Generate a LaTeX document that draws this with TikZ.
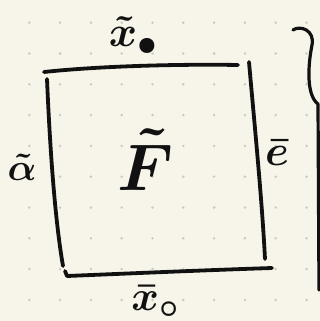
\documentclass[tikz,border=0pt]{standalone}
\definecolor{paper}{HTML}{F7F5EA}
\definecolor{dotc}{HTML}{CACAC4}
\definecolor{ink}{HTML}{111111}
\tikzset{
  pen/.style={draw=ink, line width=3.8pt, line cap=round, line join=round},
  lbl/.style={text=ink, inner sep=0pt}
}
\begin{document}
\begin{tikzpicture}[x=1pt,y=-1pt]
\fill[paper] (0,0) rectangle (320,321);
\useasboundingbox (0,0) rectangle (320,321);
\foreach \i in {0,...,9} \foreach \j in {0,...,9}
  \fill[dotc] ({29.3+30.8*\i},{22.7+30.8*\j}) circle (1.4);
% box sides
\draw[pen] (44,72) .. controls (100,66) and (180,64) .. (238,65);
\draw[pen] (47,79) .. controls (50,150) and (55,220) .. (63,266);
\draw[pen] (249,62) .. controls (255,130) and (262,200) .. (265,259);
\draw[pen] (65,271) -- (67,276) .. controls (140,273) and (210,270) .. (272,268);
% brace
\draw[pen, line width=3.2pt] (293,30) .. controls (300,25) and (315,30) .. (312,45)
  .. controls (308,65) and (306,95) .. (318,104) -- (319,290);
% labels
\node[lbl] (xt) at (134,35) {\scalebox{4.3}{\boldmath$\tilde{x}_{\bullet}$}};
\node[lbl] (al) at (22,167) {\scalebox{3.8}{\boldmath$\tilde{\alpha}$}};
\node[lbl] (F) at (146,160) {\scalebox{6.6}{\boldmath$\tilde{F}$}};
\node[lbl] (eb) at (277,153) {\scalebox{4.3}{\boldmath$\bar{e}$}};
\node[lbl] (xb) at (156,301) {\scalebox{4.2}{\boldmath$\bar{x}_{\circ}$}};
\end{tikzpicture}
\end{document}
